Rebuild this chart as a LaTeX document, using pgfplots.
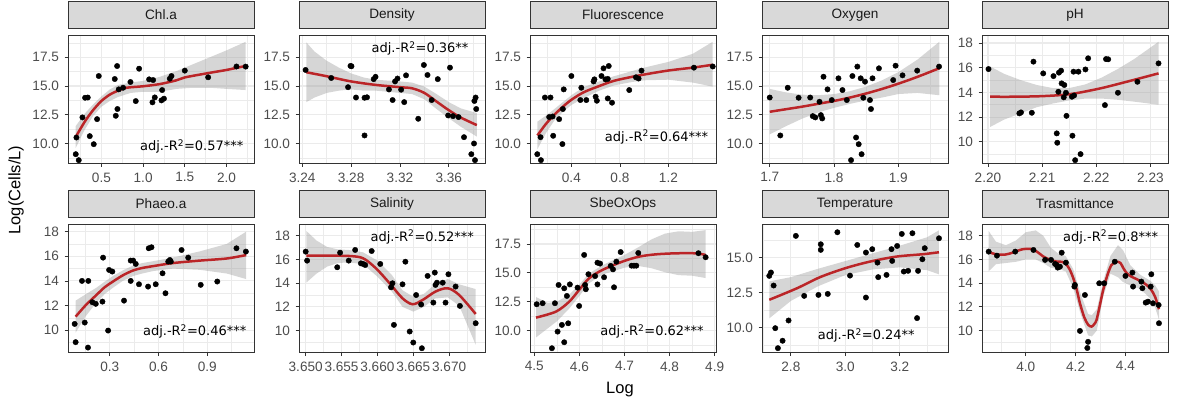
\documentclass[border=0pt]{standalone}
\usepackage{fontspec}
\setmainfont{Liberation Sans}
\newfontfamily\annfont{DejaVu Sans}
\usepackage{pgfplots}
\pgfplotsset{compat=1.18}

\definecolor{grid92}{HTML}{EBEBEB}
\definecolor{g20}{HTML}{333333}
\definecolor{g30}{HTML}{4D4D4D}
\definecolor{g85}{HTML}{D9D9D9}
\definecolor{g10}{HTML}{1A1A1A}
\definecolor{fitred}{HTML}{BB2528}
\definecolor{bandgrey}{HTML}{999999}

\pgfplotsset{
  panel/.style={
    scale only axis, width=186pt, height=128.5pt,
    axis line style={g20, line width=0.8pt},
    tick style={g20, line width=0.8pt},
    major tick length=3.5pt, tick align=outside,
    minor tick length=0pt,
    xtick pos=lower, ytick pos=left,
    grid=both,
    major grid style={grid92, line width=1.1pt},
    minor grid style={grid92, line width=0.55pt},
    ticklabel style={font=\fontsize{13.6}{15}\selectfont, text=g30},
    xticklabel style={yshift=-2pt},
    yticklabel style={xshift=-2pt},
    title style={at={(0.5,1)}, anchor=south, yshift=0pt, draw=g20,
      line width=0.8pt, fill=g85, minimum width=186pt, minimum height=27.5pt,
      inner sep=0pt, text=g10, font=\fontsize{13.6}{15}\selectfont},
  },
  yA/.style={ytick={10,12.5,15,17.5}, yticklabels={10.0,12.5,15.0,17.5},
    minor ytick={8.75,11.25,13.75,16.25,18.75}},
  yB/.style={ytick={10,12,14,16,18}, yticklabels={10,12,14,16,18},
    minor ytick={9,11,13,15,17}},
  pts/.style={only marks, mark=*, mark size=2.7pt, mark options={draw=none, fill=black}},
  band/.style={fill=bandgrey, fill opacity=0.4, draw=none},
  fit/.style={fitred, line width=2.5pt, smooth, no marks},
}
\newcommand{\ann}[3]{\node[anchor=east, font=\annfont\fontsize{13}{15}\selectfont] at (rel axis cs:#1,#2) {adj.-R\textsuperscript{2}=#3};}

\begin{document}
\begin{tikzpicture}
\path[use as bounding box] (0,0) rectangle (1177pt,-403pt);

% ---------------- Chl.a
\begin{axis}[panel, yA, at={(68pt,-35pt)}, anchor=north west, title={Chl.a},
  xmin=0.099, xmax=2.33, ymin=8.26, ymax=19.44,
  xtick={0.5,1,1.5,2}, xticklabels={0.5,1.0,1.5,2.0}, minor xtick={0.25,0.75,1.25,1.75,2.25}]
\addplot[pts] coordinates {(0.192,9.07)(0.228,8.55)(0.2,10.52)(0.272,12.27)(0.304,13.98)(0.336,14.0)(0.36,10.64)(0.408,9.94)(0.448,12.12)(0.468,15.87)(0.66,15.61)(0.672,12.41)(0.688,16.74)(0.692,13.0)(0.708,14.71)(0.76,14.85)(0.848,15.35)(0.912,13.69)(0.952,16.51)(1.072,15.58)(1.12,15.52)(1.112,13.58)(1.14,14.01)(1.22,13.75)(1.25,13.9)(1.228,14.65)(1.32,15.64)(1.34,15.87)(1.5,16.34)(1.78,15.76)(2.12,16.7)(2.23,16.69)};
\addplot[band] coordinates {(0.19,11.5)(0.3,12.6)(0.4,13.4)(0.5,14.1)(0.6,14.7)(0.7,15.1)(0.85,15.3)(1.0,15.45)(1.2,15.8)(1.4,16.3)(1.6,16.9)(1.8,17.5)(2.0,18.1)(2.23,18.85)(2.23,14.65)(2.0,14.75)(1.8,14.85)(1.6,14.85)(1.4,14.75)(1.2,14.5)(1.0,14.5)(0.85,14.4)(0.7,14.05)(0.6,13.7)(0.5,13.2)(0.4,12.4)(0.3,11.2)(0.19,9.6)};
\addplot[fit] coordinates {(0.19,10.55)(0.3,11.9)(0.4,12.9)(0.5,13.7)(0.6,14.25)(0.7,14.6)(0.8,14.85)(1.0,14.98)(1.2,15.17)(1.4,15.5)(1.5,15.75)(1.8,16.15)(2.0,16.4)(2.23,16.75)};
\ann{0.962}{0.13}{0.57***}
\end{axis}

% ---------------- Density
\begin{axis}[panel, yA, at={(299pt,-35pt)}, anchor=north west, title={Density},
  xmin=3.2373, xmax=3.3897, ymin=8.26, ymax=19.44,
  xtick={3.24,3.28,3.32,3.36}, xticklabels={3.24,3.28,3.32,3.36}, minor xtick={3.26,3.30,3.34,3.38}]
\addplot[pts] coordinates {(3.2427,16.4)(3.2637,15.7)(3.2795,16.75)(3.2803,16.72)(3.2775,14.9)(3.284,14.0)(3.291,13.98)(3.293,14.02)(3.291,10.7)(3.2985,15.6)(3.300,15.8)(3.311,14.7)(3.314,13.78)(3.316,15.4)(3.318,15.65)(3.321,14.68)(3.3235,13.6)(3.325,15.93)(3.335,12.15)(3.3396,16.83)(3.3426,15.96)(3.346,13.78)(3.351,15.6)(3.3595,12.44)(3.361,16.6)(3.3635,12.38)(3.368,12.3)(3.3725,10.55)(3.3785,9.07)(3.3807,10.0)(3.3815,8.55)(3.381,13.7)(3.382,14.0)(3.3825,13.0)};
\addplot[band] coordinates {(3.2433,18.8)(3.25,18.0)(3.26,17.2)(3.27,16.6)(3.28,16.1)(3.29,15.75)(3.30,15.55)(3.32,15.4)(3.33,15.3)(3.34,14.95)(3.35,14.3)(3.36,13.6)(3.37,13.05)(3.383,12.65)(3.383,10.6)(3.37,11.45)(3.36,12.2)(3.35,13.0)(3.34,13.85)(3.33,14.3)(3.32,14.4)(3.30,14.6)(3.29,14.6)(3.28,14.7)(3.27,14.6)(3.26,14.4)(3.25,14.0)(3.2433,13.6)};
\addplot[fit] coordinates {(3.2433,16.2)(3.26,15.85)(3.28,15.4)(3.30,15.1)(3.32,14.9)(3.33,14.8)(3.34,14.4)(3.35,13.65)(3.36,12.9)(3.37,12.25)(3.383,11.6)};
\ann{0.93}{0.896}{0.36**}
\end{axis}

% ---------------- Fluorescence
\begin{axis}[panel, yA, at={(530pt,-35pt)}, anchor=north west, title={Fluorescence},
  xmin=0.059, xmax=1.592, ymin=8.26, ymax=19.44,
  xtick={0.4,0.8,1.2,1.6}, xticklabels={0.4,0.8,1.2,1.6}, minor xtick={0.2,0.6,1.0,1.4}]
\addplot[pts] coordinates {(0.119,9.07)(0.149,8.55)(0.146,10.55)(0.182,14.0)(0.228,14.0)(0.217,12.3)(0.245,12.35)(0.25,10.67)(0.299,12.12)(0.326,9.95)(0.337,14.71)(0.33,13.0)(0.4,15.87)(0.482,14.85)(0.474,13.78)(0.523,13.78)(0.583,15.4)(0.59,15.58)(0.6,14.07)(0.61,13.72)(0.648,15.87)(0.665,16.54)(0.681,15.58)(0.7,15.62)(0.7,13.92)(0.708,16.74)(0.735,13.55)(0.877,14.65)(0.932,15.76)(0.954,15.65)(0.978,16.34)(1.41,16.6)(1.565,16.7)};
\addplot[band] coordinates {(0.12,11.9)(0.2,12.5)(0.26,13.0)(0.33,13.6)(0.4,14.2)(0.5,14.9)(0.63,15.4)(0.75,15.85)(0.9,16.3)(1.0,16.6)(1.2,17.1)(1.4,17.8)(1.565,18.85)(1.565,14.95)(1.4,15.3)(1.2,15.55)(1.0,15.5)(0.9,15.35)(0.75,15.05)(0.63,14.6)(0.5,13.95)(0.4,13.35)(0.33,12.75)(0.26,12.0)(0.19,10.9)(0.12,9.5)};
\addplot[fit] coordinates {(0.12,10.7)(0.19,11.7)(0.26,12.5)(0.33,13.2)(0.4,13.8)(0.5,14.45)(0.63,15.0)(0.75,15.45)(0.9,15.8)(1.0,16.0)(1.2,16.35)(1.4,16.6)(1.565,16.85)};
\ann{0.977}{0.207}{0.64***}
\end{axis}

% ---------------- Oxygen
\begin{axis}[panel, yA, at={(762pt,-35pt)}, anchor=north west, title={Oxygen},
  xmin=1.688, xmax=1.9775, ymin=8.26, ymax=19.44,
  xtick={1.7,1.8,1.9}, xticklabels={1.7,1.8,1.9}, minor xtick={1.75,1.85,1.95}]
\addplot[pts] coordinates {(1.7,14.0)(1.7165,10.7)(1.728,14.85)(1.745,13.98)(1.763,14.0)(1.767,12.38)(1.771,12.27)(1.7775,13.63)(1.7796,12.47)(1.7817,12.18)(1.7837,15.81)(1.79,14.71)(1.7966,13.78)(1.807,15.67)(1.8132,14.65)(1.82,13.78)(1.8266,8.55)(1.8287,15.87)(1.8344,10.52)(1.8364,16.69)(1.8385,9.94)(1.8416,15.67)(1.843,9.07)(1.8457,13.98)(1.8483,15.38)(1.856,13.78)(1.8576,13.0)(1.86,15.67)(1.87,16.54)(1.8922,15.52)(1.8959,16.77)(1.9067,15.93)(1.9295,16.34)(1.9636,16.69)};
\addplot[band] coordinates {(1.70,14.75)(1.725,14.45)(1.75,14.25)(1.775,14.2)(1.80,14.3)(1.825,14.55)(1.85,14.95)(1.875,15.5)(1.90,16.2)(1.93,17.3)(1.964,18.85)(1.964,14.2)(1.93,14.4)(1.90,14.3)(1.875,14.0)(1.85,13.75)(1.825,13.45)(1.80,13.1)(1.775,12.7)(1.75,12.15)(1.725,11.5)(1.70,10.8)};
\addplot[fit] coordinates {(1.70,12.76)(1.725,12.98)(1.75,13.2)(1.775,13.45)(1.80,13.7)(1.825,14.0)(1.85,14.35)(1.875,14.75)(1.90,15.2)(1.93,15.8)(1.964,16.55)};
\end{axis}

% ---------------- pH
\begin{axis}[panel, yB, at={(982pt,-35pt)}, anchor=north west, title={pH},
  xmin=2.1989, xmax=2.23325, ymin=8.24, ymax=18.65,
  xtick={2.20,2.21,2.22,2.23}, xticklabels={2.20,2.21,2.22,2.23}, minor xtick={2.205,2.215,2.225}]
\addplot[pts] coordinates {(2.2001,15.89)(2.2058,12.3)(2.2061,12.38)(2.2081,12.35)(2.2084,16.49)(2.2102,15.54)(2.2121,15.32)(2.2127,10.68)(2.2128,9.92)(2.213,14.05)(2.2131,15.6)(2.2135,15.76)(2.2136,14.73)(2.2141,14.6)(2.214,13.6)(2.2144,13.97)(2.2145,12.1)(2.2155,13.65)(2.2156,10.49)(2.2158,15.68)(2.2161,8.51)(2.2159,13.75)(2.2167,15.68)(2.2171,9.0)(2.218,15.86)(2.2185,16.76)(2.2216,12.97)(2.2218,16.7)(2.2222,16.68)(2.224,13.97)(2.2276,14.86)(2.2315,16.35)};
\addplot[band] coordinates {(2.2004,16.1)(2.203,15.5)(2.206,15.0)(2.209,14.6)(2.212,14.35)(2.215,14.35)(2.218,14.65)(2.221,15.2)(2.224,15.9)(2.227,16.7)(2.2315,18.1)(2.2315,13.0)(2.227,13.25)(2.224,13.4)(2.221,13.5)(2.218,13.5)(2.215,13.35)(2.212,13.1)(2.209,12.8)(2.206,12.3)(2.203,11.8)(2.2004,11.2)};
\addplot[fit] coordinates {(2.2004,13.65)(2.205,13.65)(2.2102,13.7)(2.2152,13.86)(2.2207,14.32)(2.2256,14.86)(2.2315,15.54)};
\end{axis}

% ---------------- Phaeo.a
\begin{axis}[panel, yB, at={(68pt,-224pt)}, anchor=north west, title={Phaeo.a},
  xmin=0.043, xmax=1.188, ymin=8.19, ymax=18.62,
  xtick={0.3,0.6,0.9}, xticklabels={0.3,0.6,0.9}, minor xtick={0.15,0.45,0.75,1.05}]
\addplot[pts] coordinates {(0.084,10.51)(0.09,9.03)(0.129,14.0)(0.146,10.62)(0.166,8.59)(0.168,14.0)(0.193,12.27)(0.214,12.14)(0.255,12.32)(0.259,15.89)(0.29,9.97)(0.296,14.89)(0.316,14.76)(0.388,12.4)(0.429,14.0)(0.429,15.65)(0.444,15.65)(0.46,15.38)(0.48,13.73)(0.536,13.54)(0.54,16.65)(0.557,16.73)(0.583,13.73)(0.625,14.62)(0.643,13.0)(0.66,15.57)(0.67,15.7)(0.676,15.57)(0.742,16.51)(0.783,15.89)(0.86,13.68)(0.962,13.95)(1.08,16.65)(1.138,16.38)};
\addplot[band] coordinates {(0.09,12.4)(0.15,12.9)(0.218,13.45)(0.27,13.95)(0.32,14.4)(0.38,14.85)(0.444,15.25)(0.5,15.45)(0.567,15.6)(0.69,15.9)(0.855,16.4)(1.02,17.0)(1.14,18.0)(1.14,14.15)(1.02,14.6)(0.855,14.9)(0.69,15.0)(0.567,14.8)(0.5,14.6)(0.444,14.4)(0.38,14.0)(0.32,13.45)(0.27,12.95)(0.218,12.25)(0.15,11.1)(0.09,9.8)};
\addplot[fit] coordinates {(0.09,11.1)(0.15,12.0)(0.218,12.86)(0.27,13.5)(0.32,13.95)(0.38,14.45)(0.444,14.85)(0.5,15.05)(0.567,15.2)(0.69,15.45)(0.855,15.65)(1.02,15.82)(1.14,16.1)};
\ann{0.978}{0.163}{0.46***}
\end{axis}

% ---------------- Salinity
\begin{axis}[panel, yB, at={(299pt,-224pt)}, anchor=north west, title={Salinity},
  xmin=3.64907, xmax=3.675, ymin=8.15, ymax=18.99,
  xtick={3.650,3.655,3.660,3.665,3.670}, xticklabels={3.650,3.655,3.660,3.665,3.670},
  minor xtick={3.6525,3.6575,3.6625,3.6675,3.6725}]
\addplot[pts] coordinates {(3.65,16.66)(3.6502,15.9)(3.6544,15.34)(3.6548,16.57)(3.656,15.9)(3.6569,16.8)(3.6577,15.67)(3.658,15.62)(3.6583,15.53)(3.6592,16.71)(3.6604,15.62)(3.6619,13.65)(3.6621,13.99)(3.6623,10.48)(3.6635,13.9)(3.6639,15.81)(3.6645,9.92)(3.665,8.99)(3.6654,13.0)(3.6661,12.2)(3.6662,8.51)(3.667,14.61)(3.6678,12.36)(3.668,14.89)(3.6681,13.85)(3.6683,14.04)(3.6691,14.04)(3.6695,12.36)(3.6699,14.75)(3.6709,13.71)(3.6715,12.08)(3.6737,10.62)};
\addplot[band] coordinates {(3.6501,18.4)(3.6515,17.6)(3.653,17.05)(3.6545,16.85)(3.656,16.8)(3.658,16.6)(3.66,15.9)(3.662,14.7)(3.6635,13.4)(3.665,12.85)(3.6665,13.1)(3.668,13.9)(3.6698,14.35)(3.6714,13.9)(3.6737,13.5)(3.6737,8.8)(3.6714,12.1)(3.6698,12.8)(3.668,12.7)(3.6665,12.0)(3.665,11.6)(3.6635,12.0)(3.662,13.3)(3.66,14.55)(3.658,15.6)(3.656,15.75)(3.6545,15.7)(3.653,15.4)(3.6515,14.8)(3.6501,14.05)};
\addplot[fit] coordinates {(3.6501,16.32)(3.653,16.32)(3.6561,16.29)(3.658,16.1)(3.6598,15.25)(3.6617,13.99)(3.6635,12.72)(3.6649,12.22)(3.6663,12.58)(3.6681,13.29)(3.6698,13.57)(3.6714,13.0)(3.6737,11.4)};
\ann{0.959}{0.90}{0.52***}
\end{axis}

% ---------------- SbeOxOps
\begin{axis}[panel, yA, at={(530pt,-224pt)}, anchor=north west, title={SbeOxOps},
  xmin=4.4904, xmax=4.903, ymin=8.10, ymax=19.23,
  xtick={4.5,4.6,4.7,4.8,4.9}, xticklabels={4.5,4.6,4.7,4.8,4.9}, minor xtick={4.55,4.65,4.75,4.85}]
\addplot[pts] coordinates {(4.5052,12.28)(4.5184,12.37)(4.539,8.47)(4.5457,12.37)(4.5516,9.91)(4.5538,13.95)(4.5611,10.49)(4.5663,13.66)(4.5663,8.99)(4.5722,13.0)(4.5751,10.63)(4.5788,14.0)(4.5958,13.72)(4.5994,12.13)(4.6105,16.55)(4.6127,13.95)(4.6142,13.58)(4.62,14.88)(4.6348,14.72)(4.64,15.88)(4.6459,15.8)(4.64,14.0)(4.6547,14.62)(4.6694,15.6)(4.6746,15.3)(4.6768,13.75)(4.682,15.97)(4.6915,16.8)(4.7158,15.62)(4.721,15.62)(4.7262,15.62)(4.7306,16.72)(4.864,16.7)(4.88,16.35)};
\addplot[band] coordinates {(4.5037,12.9)(4.53,12.4)(4.55,12.5)(4.5773,13.1)(4.6,14.0)(4.6215,14.95)(4.651,15.65)(4.68,16.2)(4.70,16.55)(4.73,17.2)(4.76,17.9)(4.79,18.4)(4.82,18.6)(4.85,18.55)(4.88,18.7)(4.88,14.55)(4.85,14.75)(4.82,14.8)(4.79,15.05)(4.76,15.4)(4.73,15.6)(4.70,15.45)(4.68,15.2)(4.651,14.85)(4.6215,14.1)(4.6,13.0)(4.5773,11.9)(4.55,10.8)(4.53,10.2)(4.5037,9.4)};
\addplot[fit] coordinates {(4.5037,11.12)(4.5479,11.64)(4.5773,12.5)(4.5994,13.52)(4.6215,14.53)(4.651,15.25)(4.6952,15.97)(4.732,16.4)(4.7689,16.6)(4.8131,16.69)(4.8573,16.69)(4.88,16.55)};
\ann{0.953}{0.163}{0.62***}
\end{axis}

% ---------------- Temperature
\begin{axis}[panel, at={(762pt,-224pt)}, anchor=north west, title={Temperature},
  xmin=2.694, xmax=3.377, ymin=8.21, ymax=17.4,
  ytick={10,12.5,15}, yticklabels={10.0,12.5,15.0}, minor ytick={8.75,11.25,13.75,16.25},
  xtick={2.8,3.0,3.2}, xticklabels={2.8,3.0,3.2}, minor xtick={2.7,2.9,3.1,3.3}]
\addplot[pts] coordinates {(2.7207,13.69)(2.7268,13.93)(2.7366,13.0)(2.7427,9.95)(2.7524,8.52)(2.7695,9.05)(2.7915,10.5)(2.8183,16.55)(2.8488,12.26)(2.9012,12.33)(2.9098,15.95)(2.9098,15.55)(2.9354,12.4)(2.9707,16.81)(3.0171,13.71)(3.0439,15.9)(3.0756,15.36)(3.0756,12.14)(3.0988,15.6)(3.118,14.64)(3.1207,13.6)(3.1512,13.76)(3.1695,15.6)(3.172,14.76)(3.1902,15.83)(3.2073,16.69)(3.2146,14.0)(3.2305,14.05)(3.2463,16.74)(3.267,14.05)(3.2634,10.67)(3.2829,14.88)(3.2915,15.67)(3.3439,16.38)};
\addplot[band] coordinates {(2.7207,13.3)(2.8,13.6)(2.9,14.2)(3.0,14.75)(3.1,15.3)(3.2,15.85)(3.3,16.45)(3.3439,16.95)(3.3439,13.8)(3.3,14.1)(3.2,14.3)(3.1,14.15)(3.0,13.75)(2.9,12.95)(2.8,11.9)(2.7207,10.65)};
\addplot[fit] coordinates {(2.7207,11.98)(2.822,12.8)(2.9073,13.6)(3.0,14.24)(3.0902,14.71)(3.1878,15.07)(3.2854,15.24)(3.3439,15.38)};
\ann{0.84}{0.132}{0.24**}
\end{axis}

% ---------------- Trasmittance
\begin{axis}[panel, yB, at={(982pt,-224pt)}, anchor=north west, title={Trasmittance},
  xmin=3.824, xmax=4.571, ymin=8.15, ymax=18.99,
  xtick={4.0,4.2,4.4}, xticklabels={4.0,4.2,4.4}, minor xtick={3.9,4.1,4.3,4.5}]
\addplot[pts] coordinates {(3.8507,16.66)(3.884,16.32)(3.9573,16.66)(4.0307,16.8)(4.0773,15.96)(4.1013,15.96)(4.1173,15.62)(4.124,15.53)(4.128,15.31)(4.137,15.39)(4.144,16.57)(4.161,15.73)(4.195,13.71)(4.197,13.85)(4.2173,9.97)(4.2373,13.0)(4.25,9.05)(4.247,8.53)(4.2947,13.99)(4.3147,13.99)(4.3573,15.81)(4.4,14.61)(4.428,14.89)(4.4307,13.71)(4.464,14.13)(4.468,13.57)(4.4813,12.36)(4.4907,12.44)(4.5013,13.71)(4.504,14.75)(4.5107,12.3)(4.5333,12.16)(4.5347,10.62)};
\addplot[band] coordinates {(3.8507,18.4)(3.88,17.5)(3.92,17.2)(3.96,17.6)(4.0,18.3)(4.04,18.45)(4.07,18.0)(4.1,17.0)(4.13,16.5)(4.16,16.3)(4.19,15.2)(4.22,13.1)(4.25,11.4)(4.265,11.3)(4.285,11.8)(4.31,14.1)(4.34,16.3)(4.37,17.2)(4.39,16.8)(4.42,15.5)(4.46,14.7)(4.5,14.2)(4.52,13.8)(4.535,13.3)(4.535,10.9)(4.52,11.9)(4.5,12.7)(4.46,13.5)(4.42,13.8)(4.39,14.1)(4.37,14.5)(4.34,14.8)(4.31,12.8)(4.285,10.0)(4.265,9.5)(4.25,9.6)(4.22,11.4)(4.19,13.6)(4.16,15.0)(4.13,15.2)(4.1,15.3)(4.07,15.7)(4.04,16.0)(4.0,16.0)(3.96,15.8)(3.92,15.7)(3.88,15.6)(3.8507,15.0)};
\addplot[fit] coordinates {(3.8507,16.62)(3.884,16.42)(3.92,16.42)(3.9507,16.6)(3.985,16.85)(4.0173,16.9)(4.045,16.65)(4.0707,16.24)(4.1,15.95)(4.124,15.82)(4.145,15.8)(4.161,15.6)(4.175,15.2)(4.1907,14.41)(4.205,13.4)(4.2173,12.3)(4.235,11.1)(4.2507,10.48)(4.264,10.34)(4.275,10.55)(4.284,10.9)(4.297,12.1)(4.3107,13.43)(4.328,14.7)(4.344,15.53)(4.364,15.81)(4.38,15.7)(4.3907,15.3)(4.405,14.85)(4.424,14.55)(4.444,14.35)(4.464,14.13)(4.485,13.85)(4.504,13.43)(4.52,12.8)(4.5347,11.8)};
\ann{0.966}{0.90}{0.8***}
\end{axis}

% shared axis titles
\node[rotate=90, font=\fontsize{16.5}{18}\selectfont] at (16pt,-190pt) {Log(Cells/L)};
\node[font=\fontsize{16.5}{18}\selectfont] at (620pt,-390pt) {Log};
\end{tikzpicture}
\end{document}
